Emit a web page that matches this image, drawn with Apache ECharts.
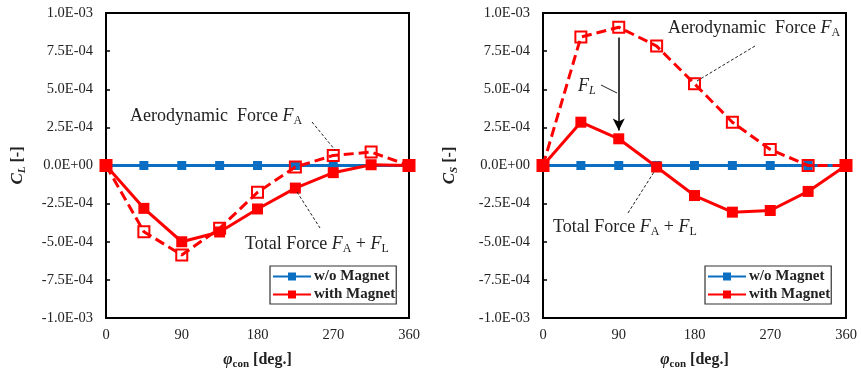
<!DOCTYPE html>
<html>
<head>
<meta charset="utf-8">
<script src="https://cdn.jsdelivr.net/npm/echarts@6/dist/echarts.min.js"></script>
<style>html,body{margin:0;padding:0;background:#fff;}#c{width:861px;height:371px;}</style>
</head>
<body>
<div id="c"></div>
<script>
const phi = [0, 45, 90, 135, 180, 225, 270, 315, 360];
const clWithout = [0, 0, 0, 0, 0, 0, 0, 0, 0];
const clTotal = [0, -2.81e-4, -5.0e-4, -4.36e-4, -2.85e-4, -1.48e-4, -0.47e-4, 0.05e-4, 0];
const clAero = [0, -4.34e-4, -5.87e-4, -4.12e-4, -1.76e-4, -0.1e-4, 0.66e-4, 0.88e-4, 0];
const csWithout = [0, 0, 0, 0, 0, 0, 0, 0, 0];
const csTotal = [0, 2.84e-4, 1.75e-4, -0.1e-4, -1.97e-4, -3.06e-4, -2.95e-4, -1.7e-4, 0];
const csAero = [0, 8.42e-4, 9.07e-4, 7.83e-4, 5.36e-4, 2.84e-4, 1.05e-4, 0, 0];
const yTickLabels = ['-1.0E-03', '-7.5E-04', '-5.0E-04', '-2.5E-04', '0.0E+00', '2.5E-04', '5.0E-04', '7.5E-04', '1.0E-03'];
const xTickLabels = ['0', '90', '180', '270', '360'];
const legendNames = ['w/o Magnet', 'with Magnet'];

const FONT = 'Liberation Serif';
const RED = '#ff0000';
const BLUE = '#0a6fc2';
const pairs = (ys) => phi.map((x, i) => [x, ys[i]]);

const chart = echarts.init(document.getElementById('c'), null, {renderer: 'canvas'});

function xAxisCfg(gi) {
  return {
    gridIndex: gi, type: 'value', min: 0, max: 360, interval: 90,
    axisLine: {show: true, lineStyle: {color: '#000', width: 2}},
    axisTick: {show: true, inside: true, length: 4, lineStyle: {color: '#000', width: 1.5}},
    splitLine: {show: false},
    axisLabel: {fontFamily: FONT, fontSize: 14.5, color: '#222', margin: 10,
      formatter: (v) => xTickLabels[Math.round(v / 90)]},
    name: '{p|φ}{s|con}{b| [deg.]}', nameLocation: 'middle', nameGap: 32,
    nameTextStyle: {rich: {
      p: {fontFamily: FONT, fontSize: 16, fontWeight: 'bold', fontStyle: 'italic', color: '#222', lineHeight: 20},
      s: {fontFamily: FONT, fontSize: 11, fontWeight: 'bold', color: '#222', verticalAlign: 'bottom', lineHeight: 13},
      b: {fontFamily: FONT, fontSize: 16, fontWeight: 'bold', color: '#222', lineHeight: 20}
    }}
  };
}
function yAxisCfg(gi, sub, gap) {
  return {
    gridIndex: gi, type: 'value', min: -1e-3, max: 1e-3, interval: 2.5e-4,
    axisLine: {show: true, onZero: false, lineStyle: {color: '#000', width: 2}},
    axisTick: {show: true, inside: true, length: 4, lineStyle: {color: '#000', width: 1.5}},
    splitLine: {show: false},
    axisLabel: {fontFamily: FONT, fontSize: 14.5, color: '#222', margin: 13,
      formatter: (v) => yTickLabels[Math.round((v + 1e-3) / 2.5e-4)]},
    name: '{c|C}{s|' + sub + '}{b| [-]}', nameLocation: 'middle', nameGap: gap, nameRotate: 90,
    nameTextStyle: {rich: {
      c: {fontFamily: FONT, fontSize: 17, fontWeight: 'bold', fontStyle: 'italic', color: '#222', lineHeight: 20},
      s: {fontFamily: FONT, fontSize: 11, fontWeight: 'bold', fontStyle: 'italic', color: '#222', verticalAlign: 'bottom', lineHeight: 13},
      b: {fontFamily: FONT, fontSize: 16, fontWeight: 'bold', color: '#222', lineHeight: 20}
    }}
  };
}
function solid(name, gi, data, color, size) {
  return {
    name: name, type: 'line', xAxisIndex: gi, yAxisIndex: gi, data: pairs(data),
    symbol: 'rect', symbolSize: size, lineStyle: {color: color, width: 3},
    itemStyle: {color: color}, animation: false, z: 3
  };
}
function dashed(name, gi, data, extra) {
  const s = {
    name: name, type: 'line', xAxisIndex: gi, yAxisIndex: gi, data: pairs(data),
    symbol: 'rect', symbolSize: 11,
    lineStyle: {color: RED, width: 3, type: [10, 5]},
    itemStyle: {color: 'rgba(255,255,255,0)', borderColor: RED, borderWidth: 2},
    animation: false, z: 4
  };
  return Object.assign(s, extra || {});
}
function legendCfg(left) {
  return {
    data: legendNames, orient: 'vertical', left: left, top: 266,
    backgroundColor: '#fff', borderColor: '#333', borderWidth: 1.2,
    padding: [3, 1, 2, 2], itemGap: 3, itemWidth: 38, itemHeight: 10,
    textStyle: {fontFamily: FONT, fontSize: 15, fontWeight: 'bold', color: '#222', padding: [0, 0, 0, -2]},
    selectedMode: false
  };
}
const rich = {
  t: {fontFamily: FONT, fontSize: 18, color: '#222', lineHeight: 22},
  i: {fontFamily: FONT, fontSize: 18, fontStyle: 'italic', color: '#222', lineHeight: 22},
  s: {fontFamily: FONT, fontSize: 12, color: '#222', verticalAlign: 'bottom', lineHeight: 15},
  si: {fontFamily: FONT, fontSize: 12, fontStyle: 'italic', color: '#222', verticalAlign: 'bottom', lineHeight: 15}
};
function label(x, y, text) {
  return {type: 'text', left: x, top: y, z: 10, style: {text: text, rich: rich, fill: '#222'}};
}
function leader(x1, y1, x2, y2, dash) {
  return {type: 'line', z: 9, shape: {x1: x1, y1: y1, x2: x2, y2: y2},
    style: {stroke: '#222', lineWidth: 1, lineDash: dash ? [3, 2] : null}};
}

const option = {
  backgroundColor: '#fff',
  animation: false,
  grid: [
    {left: 106, top: 13, width: 303, height: 305, outerBoundsMode: 'none', containLabel: false, show: true, borderColor: '#000', borderWidth: 2, backgroundColor: 'transparent'},
    {left: 543, top: 13, width: 303, height: 305, outerBoundsMode: 'none', containLabel: false, show: true, borderColor: '#000', borderWidth: 2, backgroundColor: 'transparent'}
  ],
  xAxis: [xAxisCfg(0), xAxisCfg(1)],
  yAxis: [yAxisCfg(0, 'L', 78), yAxisCfg(1, 'S', 83)],
  legend: [legendCfg(270), legendCfg(705)],
  series: [
    solid('w/o Magnet', 0, clWithout, BLUE, 9),
    solid('with Magnet', 0, clTotal, RED, 11),
    dashed('Aerodynamic Force (CL)', 0, clAero),
    solid('w/o Magnet', 1, csWithout, BLUE, 9),
    solid('with Magnet', 1, csTotal, RED, 11),
    dashed('Aerodynamic Force (CS)', 1, csAero, {
      markLine: {
        silent: true, symbol: ['none', 'arrow'], symbolSize: [9, 12],
        label: {show: false},
        lineStyle: {color: '#000', width: 1.5, type: 'solid'},
        data: [[{coord: [90, 8.4e-4]}, {coord: [90, 2.3e-4]}]]
      }
    })
  ],
  graphic: [
    label(130, 107, '{t|Aerodynamic  Force }{i|F}{s|A}'),
    leader(312, 122, 335, 150, true),
    label(245, 235, '{t|Total Force }{i|F}{s|A}{t| + }{i|F}{s|L}'),
    leader(297, 192, 320, 228, true),
    label(668, 19, '{t|Aerodynamic  Force }{i|F}{s|A}'),
    leader(755, 46, 697, 81, true),
    label(578, 77, '{i|F}{si|L}'),
    leader(601, 85, 617, 93, false),
    label(553, 218, '{t|Total Force }{i|F}{s|A}{t| + }{i|F}{s|L}'),
    leader(628, 213, 654, 172, true)
  ]
};
chart.setOption(option);
</script>
</body>
</html>
